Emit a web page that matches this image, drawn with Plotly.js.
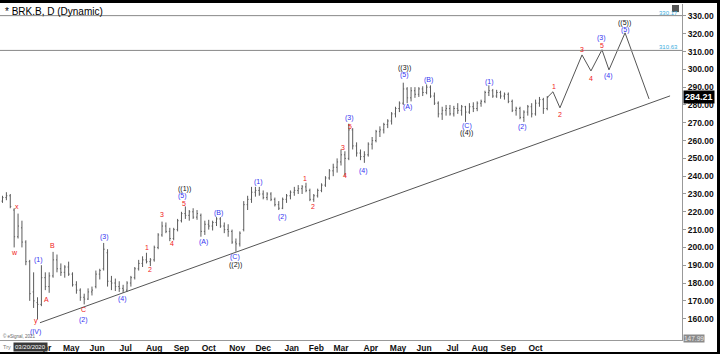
<!DOCTYPE html>
<html><head><meta charset="utf-8">
<script src="https://cdn.plot.ly/plotly-3.0.1.min.js"></script>
<style>
html,body{margin:0;padding:0;background:#000;width:720px;height:354px;overflow:hidden}
#chart{position:absolute;left:0;top:3px;width:717px;height:349px;background:#fff}
</style></head><body><div id="chart"></div>
<script>
// trading-day index: 0 = first trading day of Apr 2020; one bar per 3 trading days
const barStartDay = -32, barStepDays = 3;
const opens  = [226,228,229,221,206,211,203,192,175,169,168,183,178,184,193,188,186,189,185,179,176,172,171,175,178,185,188,197,181,180,178,177,176,180,183,188,191,193,192,193,200,207,212,209,205,210,215,219,218,220,217,218,209,213,212,214,216,212,210,209,203,202,210,224,227,231,232,230,228,230,227,224,222,227,229,231,232,233,234,232,227,229,232,235,239,243,245,248,252,250,266,257,253,251,252,258,260,265,266,269,271,275,278,281,289,284,288,286,289,287,290,285,281,275,277,278,275,278,277,279,276,279,278,281,282,287,288,285,287,285,286,282,277,278,273,276,279,275,281,283,278];
const highs  = [229,231,230,222,219,215,204,193,186,172,190,186,186,197.5,196,191,190,192,186,181,177,174,177,178,187,188,202.5,199,184,182.5,181,179,181,184,189,193,195,197,194,201,208,214.5,214,211,211,216,220,223,221,222,221,219,215,215.5,215,217,217,214,213,210,205,209,226,229,234,234,234,232,231,231,228,226,228,230,232,234,235,235,236.3,233,230,233,236,240,244,247,250,255,254,269.5,267,259,255,254,259,262,266,268,270,272,276,279,282,292.5,290,290,290,290,290.5,291.5,291,287,282,279,280,280,279.5,281,280,279.5,281,281.5,282,283,288,291,289,288.5,288,287,287,283,279,279,277,280,281,283,284.5,284,285];
const lows   = [225,226.5,222,200,205,200,190,170,166,159.5,167,176,174.5,183,186,184,183,184,178,174,170,168,170.5,173,177,182,187,178,176,175.5,175,174.5,175,178,182,187,189,191,189.5,192,199,206,208,203.5,204,209,214,216,215,216,215.5,206,207,210,209.5,212,211,208,206,202,197.6,200.5,209,221,225,228.5,229,227,226.5,226,223,221,221.5,225,227,229,230,230,231,226,225.6,228,231,234,238,240,242,246,240,249,255,251,249,247.5,251,255,259,262,264,267,269,273,276,280,281,282,284,284.5,285,286,284,280,273,271.6,274,274,273.5,275,274,270.5,275,276,276.5,279,281,285,284,284,283.5,283,281,276,274,272,270.5,274,273,274,279,275,277];
const closes = [228,229,223,206,212,203,192,174,170,168,183,178,184,193,188,186,189,185,179,176,172,171,175,176,185,187,199,181,180,178,177,176,180,183,188,191,193,192,193,200,207,212,209,205,210,215,219,218,220,217,219,209,213,212,214,216,212,210,209,203,202,208,224,227,231,232,230,228,230,227,224,222,227,229,231,232,233,234,232,227,229,232,235,239,243,245,248,252,250,266,257,253,251,252,258,260,265,266,269,271,275,278,281,289,284,288,286,289,287,290,285,281,275,277,278,275,278,277,279,276,279,278,281,282,287,288,285,287,285,286,282,277,278,273,276,279,275,281,283,278,284.21];

// month tick labels (trading-day index of first session of each month)
const monthDays   = [0,21,41,63,85,106,127,149,169,191,210,229,252,273,293,315,336,358,379];
const monthLabels = ["Apr","May","Jun","Jul","Aug","Sep","Oct","Nov","Dec","Jan","Feb","Mar","Apr","May","Jun","Jul","Aug","Sep","Oct"];

// projected wave path
const projDays   = [388,392.4,397.8,414.8,421.7,430.2,435.6,448,466.5];
const projPrices = [284.21,287.4,278.4,308.1,299.1,311,299.7,320.5,283.4];

// trend line
const trendDays   = [-3.1,482.7];
const trendPrices = [157.7,285.1];

// horizontal levels
const levelPrices = [330.17,310.63];
const levelLabels = ["330.17","310.63"];
const lastPrice = 284.21;
const axisLow = "147.99";

// wave labels
const waveText  = ["x","w","y","(IV)","(1)","A","B","C","(2)","(3)","(4)","1","2","3","4","5","(5)","((1))","(A)","(B)","(C)","((2))","(1)","(2)","1","2","3","4","5","(3)","(4)","((3))","(5)","(A)","(B)","(C)","((4))","(1)","(2)","1","2","3","4","5","(3)","(4)","(5)","((5))"];
const waveDay   = [-20.8,-22.4,-6.2,-6.2,-3.9,2.3,6.9,30.1,30.1,46.3,60.9,79.4,81.7,91,98.7,107.9,107.1,108.7,122.6,134.9,147.3,147.3,165,183.5,201.2,207.4,230.5,232.1,235.9,235.9,246.7,277.6,277.6,279.9,296.1,326.1,326.1,343.1,369.3,393.2,397.8,414.8,421.7,430.2,430.2,435.6,448,447.6];
const wavePrice = [222.8,197.0,158.6,152.6,193.1,170.6,200.9,165.2,159.4,206.0,171.2,199.8,187.5,218.3,202.1,224.4,228.6,232.8,203.2,219.4,194.8,190.0,236.8,217.2,238.5,222.8,255.9,240.2,268.0,272.6,243.0,301.0,296.6,278.9,294.1,268.2,264.0,293.0,267.7,290.2,274.4,310.9,294.6,313.2,317.5,296.3,322.0,326.2];
const waveColor = ["r","r","r","b","b","r","r","r","b","b","b","r","r","r","r","r","b","k","b","b","b","k","b","b","r","r","r","r","r","b","b","k","b","b","b","b","k","b","b","r","r","r","r","r","b","b","b","k"];
const colorMap = {r:"#f02020", b:"#3434f0", k:"#111111"};

const barDays = opens.map((_, i) => barStartDay + i * barStepDays);

const traces = [
  {type:"ohlc", x:barDays, open:opens, high:highs, low:lows, close:closes,
   increasing:{line:{color:"#5c5c5c", width:1}}, decreasing:{line:{color:"#5c5c5c", width:1}},
   tickwidth:0.25, hoverinfo:"skip", showlegend:false},
  {type:"scatter", mode:"lines", x:trendDays, y:trendPrices, line:{color:"#555", width:1}, hoverinfo:"skip", showlegend:false},
  {type:"scatter", mode:"lines", x:projDays, y:projPrices, line:{color:"#555", width:1}, hoverinfo:"skip", showlegend:false}
];

const annotations = waveText.map((t, i) => ({
  x: waveDay[i], y: wavePrice[i], xref:"x", yref:"y", text:t, showarrow:false,
  font:{family:"Liberation Sans, Arial", size:7, color:colorMap[waveColor[i]]}
}));

levelPrices.forEach((p, i) => annotations.push({
  x:1, xref:"paper", xanchor:"right", xshift:-2, y:p, yref:"y", yanchor:"bottom", yshift:-2,
  text:levelLabels[i], showarrow:false, font:{family:"Liberation Sans, Arial", size:6, color:"#3aaee0"}
}));

annotations.push(
  {x:0, xref:"paper", xanchor:"left", xshift:3, y:0.979, yref:"paper", yanchor:"middle",
   text:"* BRK.B, D (Dynamic)", showarrow:false, font:{family:"Liberation Sans, Arial", size:10, color:"#000"}},
  {x:1, xref:"paper", xanchor:"left", xshift:1, y:lastPrice, yref:"y", yanchor:"middle",
   text:"<b>"+lastPrice.toFixed(2)+"</b>", showarrow:false, bgcolor:"#000", borderpad:1,
   font:{family:"Liberation Sans, Arial", size:9, color:"#fff"}},
  {x:1, xref:"paper", xanchor:"left", xshift:1, y:148.6, yref:"y", yanchor:"middle",
   text:axisLow, showarrow:false, bgcolor:"#8a8a8a", borderpad:0,
   font:{family:"Liberation Sans, Arial", size:6.5, color:"#e8e8e8"}},
  {x:0.0445, xref:"paper", xanchor:"center", y:-0.021, yref:"paper", yanchor:"middle",
   text:"03/20/2020", showarrow:false, bgcolor:"#3a3a3a", borderpad:1,
   font:{family:"Liberation Sans, Arial", size:6, color:"#fff"}},
  {x:0, xref:"paper", xanchor:"left", xshift:1, y:-0.021, yref:"paper", yanchor:"middle",
   text:"Try", showarrow:false, font:{family:"Liberation Sans, Arial", size:5.5, color:"#777"}},
  {x:0, xref:"paper", xanchor:"left", xshift:1, y:0.012, yref:"paper", yanchor:"middle",
   text:"© eSignal, 2021", showarrow:false, font:{family:"Liberation Sans, Arial", size:4.5, color:"#666"}}
);

const shapes = levelPrices.map(p => ({type:"line", xref:"paper", x0:0, x1:1, yref:"y", y0:p, y1:p,
  line:{color:"#888", width:1}}));
shapes.push({type:"rect", xref:"paper", yref:"paper", x0:0.9853, x1:0.9956, y0:0.976, y1:0.997,
  fillcolor:"#555", line:{width:0}});

const layout = {
  width:717, height:349,
  margin:{l:0, r:35, t:1, b:12, pad:0},
  paper_bgcolor:"#fff", plot_bgcolor:"#fff",
  showlegend:false, dragmode:false,
  xaxis:{range:[-33.92,491.9], tickvals:monthDays, ticktext:monthLabels, showgrid:false, zeroline:false,
    showline:true, linecolor:"#999", linewidth:1, ticks:"", ticklen:0,
    rangeslider:{visible:false}, fixedrange:true,
    tickfont:{family:"Liberation Sans, Arial", size:8.5, color:"#111", weight:"bold"}},
  yaxis:{range:[148.0,336.7], side:"right", tickvals:[160,170,180,190,200,210,220,230,240,250,260,270,280,290,300,310,320,330],
    tickformat:".2f", showgrid:false, zeroline:false, showline:true, linecolor:"#999", linewidth:1,
    ticks:"outside", ticklen:3, tickcolor:"#999", fixedrange:true,
    tickfont:{family:"Liberation Sans, Arial", size:8.5, color:"#111", weight:"bold"}},
  annotations:annotations, shapes:shapes
};

Plotly.newPlot("chart", traces, layout, {displayModeBar:false, staticPlot:true});
</script></body></html>
